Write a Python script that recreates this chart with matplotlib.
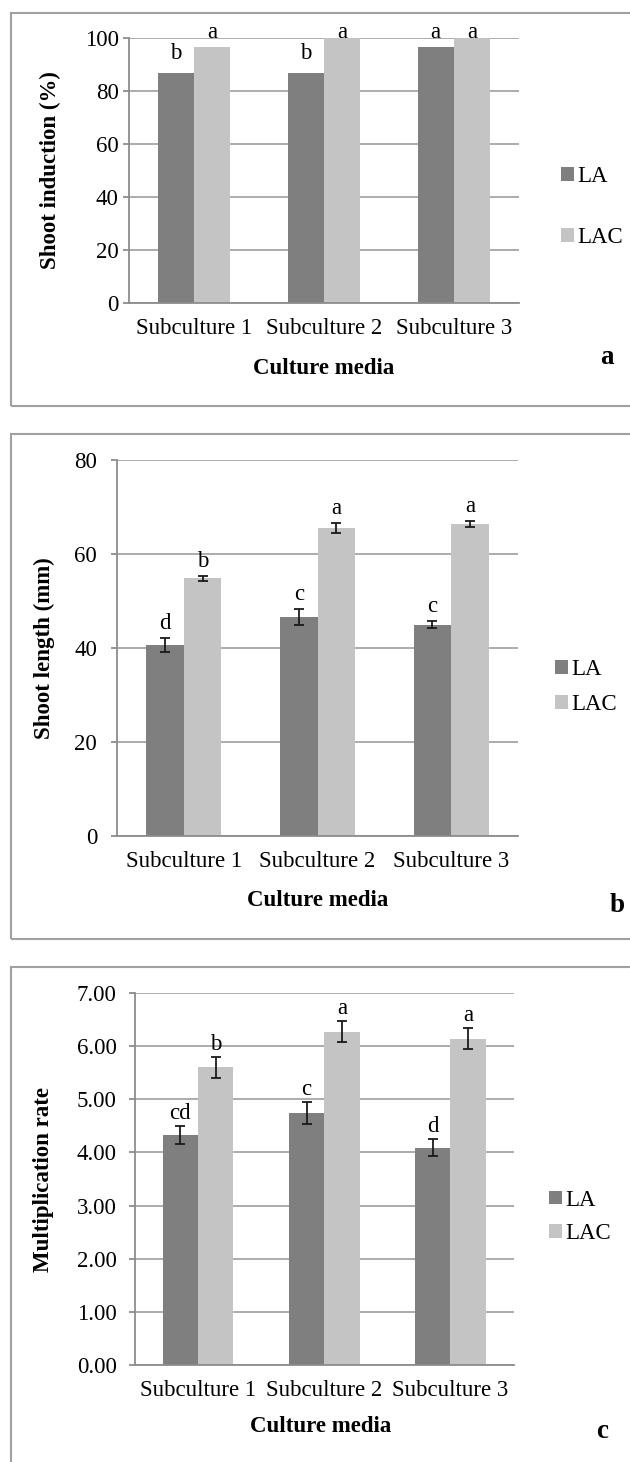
import numpy as np
import matplotlib
matplotlib.use('Agg')
import matplotlib.pyplot as plt
from matplotlib.patches import Rectangle

plt.rcParams['font.family'] = ['Liberation Serif', 'DejaVu Serif']

W, H = 630, 1462

categories = ['Subculture 1', 'Subculture 2', 'Subculture 3']
series = ['LA', 'LAC']

# panel a - shoot induction (%)
induction_la = [86.7, 86.7, 96.7]
induction_lac = [96.7, 100.0, 100.0]
induction_let_la = ['b', 'b', 'a']
induction_let_lac = ['a', 'a', 'a']

# panel b - shoot length (mm)
length_la = [40.6, 46.6, 45.0]
length_la_err = [1.5, 1.6, 0.7]
length_lac = [54.8, 65.5, 66.4]
length_lac_err = [0.6, 1.0, 0.7]
length_let_la = ['d', 'c', 'c']
length_let_lac = ['b', 'a', 'a']

# panel c - multiplication rate
mult_la = [4.33, 4.74, 4.09]
mult_la_err = [0.17, 0.20, 0.16]
mult_lac = [5.60, 6.27, 6.14]
mult_lac_err = [0.20, 0.20, 0.20]
mult_let_la = ['cd', 'c', 'd']
mult_let_lac = ['b', 'a', 'a']

dark = '#7f7f7f'
light = '#c4c4c4'
grid = '#a6a6a6'
axcol = '#8c8c8c'
FS = 16.5


def fx(x):
    return x / W


def fy(y):
    return 1 - y / H


def make_axes(fig, left, right, top, bottom):
    return fig.add_axes([fx(left), fy(bottom), (right - left) / W, (bottom - top) / H])


def drawPanel(fig, box, frame, la, lac, la_err, lac_err, let_la, let_lac,
              ylim, yticks, fmt, ylabel, ylab_x, xlab_pos, ytick_pad,
              leg_x, leg_y, leg_space, letter, letter_pos, letter_off):
    # outer frame of the panel
    fig.patches.append(Rectangle((fx(11), fy(frame[1])), (W + 20) / W,
                                 (frame[1] - frame[0]) / H,
                                 transform=fig.transFigure, fill=False,
                                 edgecolor='#a0a0a0', linewidth=1.5))
    ax = make_axes(fig, *box)
    x = np.arange(len(categories))
    w = 0.28
    b1 = ax.bar(x - w / 2, la, w, color=dark, label=series[0], zorder=2)
    b2 = ax.bar(x + w / 2, lac, w, color=light, label=series[1], zorder=2)
    if la_err is not None:
        ax.errorbar(x - w / 2, la, yerr=la_err, fmt='none', ecolor='#1a1a1a',
                    elinewidth=1.3, capsize=3.6, capthick=1.3, zorder=3)
        ax.errorbar(x + w / 2, lac, yerr=lac_err, fmt='none', ecolor='#1a1a1a',
                    elinewidth=1.3, capsize=3.6, capthick=1.3, zorder=3)
        for xi, v, e, t in zip(x - w / 2, la, la_err, let_la):
            ax.annotate(t, (xi, v + e), xytext=(0, letter_off), textcoords='offset pixels',
                        ha='center', va='baseline', fontsize=FS)
        for xi, v, e, t in zip(x + w / 2, lac, lac_err, let_lac):
            ax.annotate(t, (xi, v + e), xytext=(0, letter_off), textcoords='offset pixels',
                        ha='center', va='baseline', fontsize=FS)
    else:
        for xi, v, t in zip(x - w / 2, la, let_la):
            ax.text(xi, min(v + 5.5, ylim[1]), t, ha='center', va='baseline', fontsize=FS)
        for xi, v, t in zip(x + w / 2, lac, let_lac):
            ax.text(xi, min(v + 5.5, ylim[1]), t, ha='center', va='baseline', fontsize=FS)

    ax.set_xlim(-0.5, len(categories) - 0.5)
    ax.set_ylim(*ylim)
    ax.set_yticks(yticks)
    ax.set_yticklabels([fmt.format(t) for t in yticks], fontsize=FS)
    ax.set_xticks(x)
    ax.set_xticklabels(categories, fontsize=FS)
    ax.tick_params(axis='x', length=0, pad=11)
    ax.tick_params(axis='y', length=4.3, width=1.3, color=axcol, pad=ytick_pad)
    ax.yaxis.grid(True, color=grid, linewidth=1.3, zorder=0)
    ax.set_axisbelow(True)
    for s in ['top', 'right']:
        ax.spines[s].set_visible(False)
    for s in ['left', 'bottom']:
        ax.spines[s].set_color(axcol)
        ax.spines[s].set_linewidth(1.3)
    ax.spines['bottom'].set_zorder(4)

    fig.text(fx(ylab_x), fy((box[2] + box[3]) / 2), ylabel, rotation=90,
             ha='center', va='center', fontsize=FS, fontweight='bold')
    fig.text(fx(xlab_pos[0]), fy(xlab_pos[1]), 'Culture media', ha='center',
             va='center', fontsize=FS, fontweight='bold')
    fig.text(fx(letter_pos[0]), fy(letter_pos[1]), letter, ha='center',
             va='center', fontsize=19.5, fontweight='bold')

    fig.legend(handles=[b1, b2], labels=series, loc='center left',
               bbox_to_anchor=(fx(leg_x), fy(leg_y)), frameon=False,
               fontsize=FS, handlelength=0.55, handleheight=0.55,
               handletextpad=0.15, labelspacing=leg_space, borderpad=0,
               borderaxespad=0)
    return ax


fig = plt.figure(figsize=(W / 100, H / 100), dpi=100)

drawPanel(fig, (129, 519, 38, 303), (13, 406), induction_la, induction_lac,
          None, None, induction_let_la, induction_let_lac,
          (0, 100), [0, 20, 40, 60, 80, 100], '{:.0f}', 'Shoot induction (%)',
          50, (324, 368), 3, 561, 207, 1.75, 'a', (607, 358), 0)

drawPanel(fig, (117, 518, 460, 836), (434, 939), length_la, length_lac,
          length_la_err, length_lac_err, length_let_la, length_let_lac,
          (0, 80), [0, 20, 40, 60, 80], '{:.0f}', 'Shoot length (mm)',
          44, (318, 900), 10, 555, 687, 0.6, 'b', (617, 906), 9)

drawPanel(fig, (135, 513.5, 993, 1365), (967, 1480), mult_la, mult_lac,
          mult_la_err, mult_lac_err, mult_let_la, mult_let_lac,
          (0, 7), [0, 1, 2, 3, 4, 5, 6, 7], '{:.2f}', 'Multiplication rate',
          44, (321, 1427), 9, 549, 1217, 0.55, 'c', (602, 1432), 7)

fig.savefig('out.png', dpi=100)
